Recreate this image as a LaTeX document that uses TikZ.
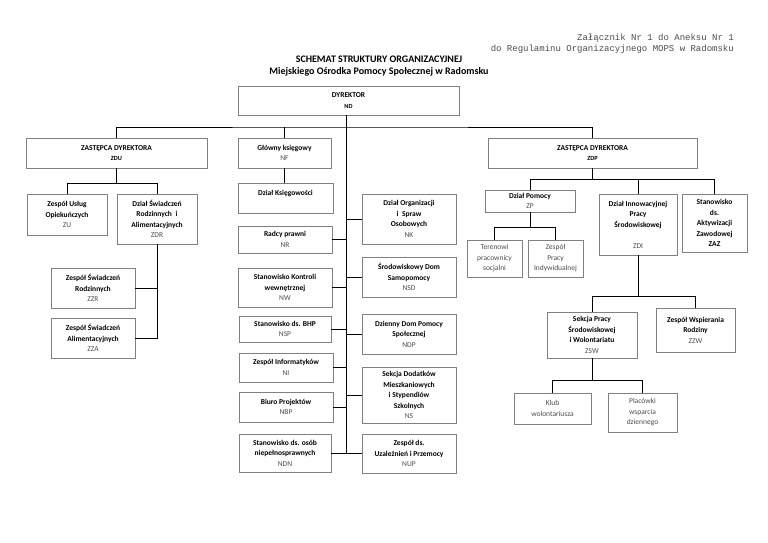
\documentclass[tikz,border=0pt]{standalone}
\usepackage{fontspec}
\setmainfont{Carlito}
\newfontfamily\monofont{Liberation Mono}
\definecolor{ramka}{gray}{0.5}
\definecolor{kodgray}{gray}{0.3}
\newcommand{\kod}[1]{{\mdseries\color{kodgray}#1}}
\newcommand{\kodb}[1]{{\fontsize{6.3}{10.5}\selectfont #1}}
\tikzset{
	box/.style={draw=ramka, line width=0.7pt, align=center, inner sep=0pt,
		font=\fontsize{7.5}{10.5}\selectfont\bfseries},
	boxn/.style={box, font=\fontsize{7.5}{10.5}\selectfont\color{kodgray}},
	link/.style={line width=0.8pt, black}
}
\begin{document}
\begin{tikzpicture}[x=1pt, y=-1pt]
\useasboundingbox (0,0) rectangle (768,543);
% Naglowek
\node[anchor=east, align=right, inner sep=0pt, font=\monofont\fontsize{9}{11}\selectfont, text=kodgray] (zal) at (734,43.5)
	{Załącznik Nr 1 do Aneksu Nr 1\\do Regulaminu Organizacyjnego MOPS w Radomsku};
\node[align=center, font=\fontsize{10}{12}\selectfont\bfseries] (tytul) at (379,66)
	{SCHEMAT STRUKTURY ORGANIZACYJNEJ\\Miejskiego Ośrodka Pomocy Społecznej w Radomsku};

% Dyrekcja
\node[box, minimum width=221, minimum height=29] (dyr) at (348.5,100.5) {DYREKTOR\\\kodb{ND}};
\node[box, minimum width=181, minimum height=30] (zdu) at (116.5,153) {ZASTĘPCA DYREKTORA\\\kodb{ZDU}};
\node[box, minimum width=93, minimum height=30] (nf) at (284.5,153) {Główny księgowy\\\kod{NF}};
\node[box, minimum width=209, minimum height=30] (zdp) at (592.5,153) {ZASTĘPCA DYREKTORA\\\kodb{ZDP}};
\node[box, minimum width=95, minimum height=30] (ksieg) at (285.5,198) {Dział Księgowości\\~};

% Pion ZDU
\node[box, minimum width=80, minimum height=41] (zu) at (67,214.5) {Zespół Usług\\Opiekuńczych\\\kod{ZU}};
\node[box, minimum width=80, minimum height=50] (zdr) at (157,219) {Dział Świadczeń\\Rodzinnych\enspace i\\Alimentacyjnych\\\kod{ZDR}};
\node[box, minimum width=84, minimum height=40] (zzr) at (93,288) {Zespół Świadczeń\\Rodzinnych\\\kod{ZZR}};
\node[box, minimum width=84, minimum height=40] (zza) at (93,338) {Zespół Świadczeń\\Alimentacyjnych\\\kod{ZZA}};

% Komorki podlegle dyrektorowi - lewa strona
\node[box, minimum width=94, minimum height=27] (nr) at (285,239.5) {Radcy prawni\\\kod{NR}};
\node[box, minimum width=94, minimum height=39] (nw) at (285,287.5) {Stanowisko Kontroli\\wewnętrznej\\\kod{NW}};
\node[box, minimum width=92, minimum height=26] (nsp) at (285,329) {Stanowisko ds. BHP\\\kod{NSP}};
\node[box, minimum width=94, minimum height=29] (ni) at (286,367.5) {Zespół Informatyków\\\kod{NI}};
\node[box, minimum width=94, minimum height=30] (nbp) at (286,407) {Biuro Projektów\\\kod{NBP}};
\node[box, minimum width=92, minimum height=38] (ndn) at (285,453) {Stanowisko ds. osób\\niepełnosprawnych\\\kod{NDN}};

% Komorki podlegle dyrektorowi - prawa strona
\node[box, minimum width=94, minimum height=50] (nk) at (409,219) {Dział Organizacji\\i\enspace Spraw\\Osobowych\\\kod{NK}};
\node[box, minimum width=94, minimum height=40] (nsd) at (409,277) {Środowiskowy Dom\\Samopomocy\\\kod{NSD}};
\node[box, minimum width=94, minimum height=40] (ndp) at (409,334) {Dzienny Dom Pomocy\\Społecznej\\\kod{NDP}};
\node[box, minimum width=94, minimum height=56] (ns) at (409,395) {Sekcja Dodatków\\Mieszkaniowych\\i Stypendiów\\Szkolnych\\\kod{NS}};
\node[box, minimum width=94, minimum height=39] (nup) at (409,453.5) {Zespół ds.\\Uzależnień i Przemocy\\\kod{NUP}};

% Pion ZDP
\node[box, minimum width=90, minimum height=22] (zp) at (530,201) {Dział Pomocy\\\kod{ZP}};
\node[boxn, minimum width=55, minimum height=37] (ter) at (494.5,258.5) {Terenowi\\pracownicy\\socjalni};
\node[boxn, minimum width=55, minimum height=37] (zpi) at (555.5,258.5) {Zespół\\Pracy\\Indywidualnej};
\node[box, minimum width=78, minimum height=61] (zdi) at (638,224.5) {Dział Innowacyjnej\\Pracy\\Środowiskowej\\~\\\kod{ZDI}};
\node[box, minimum width=65, minimum height=58] (zaz) at (714.5,223) {Stanowisko\\ds.\\Aktywizacji\\Zawodowej\\ZAZ};
\node[box, minimum width=90, minimum height=46] (zsw) at (592,335) {Sekcja Pracy\\Środowiskowej\\i Wolontariatu\\\kod{ZSW}};
\node[box, minimum width=79, minimum height=44] (zzw) at (695.5,330) {Zespół Wspierania\\Rodziny\\\kod{ZZW}};
\node[boxn, minimum width=77, minimum height=31] (klub) at (552.5,408.5) {Klub\\wolontariusza};
\node[boxn, minimum width=69, minimum height=39] (plac) at (642.5,412.5) {Placówki\\wsparcia\\dziennego};

% Polaczenia - dyrekcja
\coordinate (bus) at (346,127);
\draw[link] (zdu.north) |- (bus) -| (zdp.north);
\draw[link] (nf.north) -- (nf.north |- bus);
\draw[link] (nf.south) -- (nf.south |- ksieg.north);
\draw[link] (bus |- dyr.south) -- (bus |- nup.west);
% lewa strona
\foreach \n in {nr, nw, nsp, ni, nbp, ndn}
	\draw[link] (\n.east) -- (\n.east -| bus);
% prawa strona
\foreach \n in {nk, nsd, ndp, ns, nup}
	\draw[link] (\n.west) -- (\n.west -| bus);

% Polaczenia - ZDU
\draw[link] (zdu.south) -- ++(0,15) coordinate (zduBus);
\draw[link] (zu.north) |- (zduBus) -| (zdr.north);
\draw[link] (zdr.south) -- (zdr.south |- zza.east) -- (zza.east);
\draw[link] (zzr.east) -- (zzr.east -| zdr.south);

% Polaczenia - ZDP
\draw[link] (zdp.south) -- ++(0,11) coordinate (zdpBus);
\draw[link] (zp.north) |- (zdpBus) -| (zaz.north);
\draw[link] (zdi.north) -- (zdi.north |- zdpBus);
\draw[link] (zp.south) -- ++(0,15) coordinate (zpBus);
\draw[link] (ter.north) |- (zpBus) -| (zpi.north);
\draw[link] (zdi.south) -- ++(0,41) coordinate (zdiBus);
\draw[link] (zsw.north) |- (zdiBus) -| (zzw.north);
\draw[link] (zsw.south) -- ++(0,22) coordinate (zswBus);
\draw[link] (klub.north) |- (zswBus) -| (plac.north);
\end{tikzpicture}
\end{document}
